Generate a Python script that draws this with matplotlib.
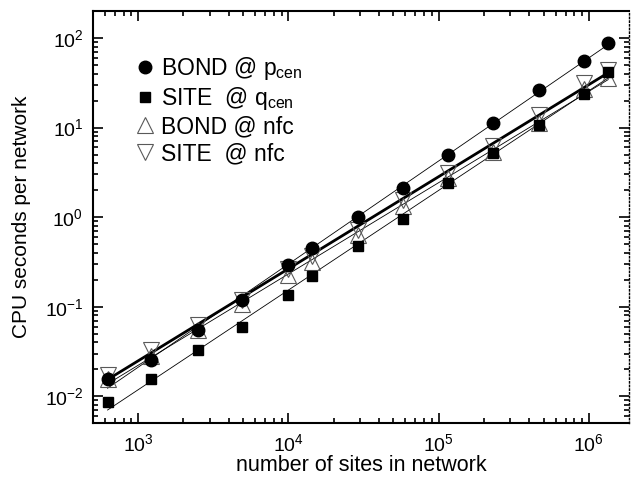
import numpy as np
import matplotlib
matplotlib.use("Agg")
import matplotlib.pyplot as plt

plt.rcParams['font.family'] = ['Liberation Sans', 'DejaVu Sans']
plt.rcParams['mathtext.fontset'] = 'custom'
plt.rcParams['mathtext.rm'] = 'Liberation Sans'
plt.rcParams['mathtext.it'] = 'Liberation Sans:italic'
plt.rcParams['axes.unicode_minus'] = False

# network sizes (sites)
sites = [625, 1225, 2500, 4900, 10000, 14400, 28900, 57600, 115600,
         230400, 462400, 921600, 1345600]

# CPU seconds per network
bond_pcen = [0.0157, 0.0253, 0.055, 0.12, 0.294, 0.45, 1.0, 2.1, 4.94,
             11.3, 26.2, 55, 88]
site_qcen = [0.0087, 0.0158, 0.0333, 0.0596, 0.136, 0.218, 0.48, 0.96, 2.39,
             5.16, 10.7, 24.0, 41.8]
bond_nfc = [0.0157, 0.0285, 0.0556, 0.107, 0.227, 0.318, 0.636, 1.34, 2.72,
            5.37, 11.3, 26.8, 36.2]
site_nfc = [0.0172, 0.0333, 0.063, 0.12, 0.264, 0.365, 0.71, 1.56, 3.09,
            6.27, 13.8, 31.3, 44]

labels = [r"BOND @ p$_{\mathrm{cen}}$", r"SITE  @ q$_{\mathrm{cen}}$",
          "BOND @ nfc", "SITE  @ nfc"]

x = np.array(sites, dtype=float)


def powerfit(y):
    b, a = np.polyfit(np.log10(x), np.log10(y), 1)
    xs = np.array([x[0], x[-1]])
    return xs, 10 ** a * xs ** b


fig = plt.figure(figsize=(6.31, 4.79), dpi=100)
ax = fig.add_axes([0.1474, 0.1163, 0.8494, 0.8607])

# fit lines
for y in [bond_pcen, site_qcen, bond_nfc]:
    xs, ys = powerfit(y)
    ax.plot(xs, ys, color='black', lw=0.6, zorder=1)
xs, ys = powerfit(site_nfc)
ax.plot(xs, ys, color='black', lw=2.0, zorder=1)

# data points
ax.plot(x, bond_nfc, linestyle='none', marker='^', ms=12, mfc='none',
        mec='0.35', mew=0.8, label=labels[2], zorder=2)
ax.plot(x, site_nfc, linestyle='none', marker='v', ms=12, mfc='none',
        mec='0.35', mew=0.8, label=labels[3], zorder=2)
ax.plot(x, site_qcen, linestyle='none', marker='s', ms=7, color='black',
        label=labels[1], zorder=3)
ax.plot(x, bond_pcen, linestyle='none', marker='o', ms=9, color='black',
        label=labels[0], zorder=4)

ax.set_xscale('log')
ax.set_yscale('log')
ax.set_xlim(500, 1.85e6)
ax.set_ylim(0.005, 200)

ax.set_xlabel("number of sites in network", fontsize=15.5, labelpad=0)
ax.set_ylabel("CPU seconds per network", fontsize=15, labelpad=10)

ax.tick_params(which='both', direction='in', top=True, right=True,
               labelsize=14, width=1.2)
ax.tick_params(which='major', length=7, pad=7)
ax.tick_params(which='minor', length=3.5)

for side in ['left', 'bottom', 'top']:
    ax.spines[side].set_linewidth(1.5)
ax.spines['right'].set_linewidth(1.0)
ax.spines['right'].set_linestyle(':')

h, l = ax.get_legend_handles_labels()
order = [3, 2, 0, 1]
ax.legend([h[i] for i in order], [l[i] for i in order], loc='upper left',
          bbox_to_anchor=(0.055, 0.922), frameon=False, fontsize=16.5,
          handlelength=1.0, handletextpad=0.2, labelspacing=0.15,
          borderpad=0)

fig.savefig("out.png", dpi=100)
